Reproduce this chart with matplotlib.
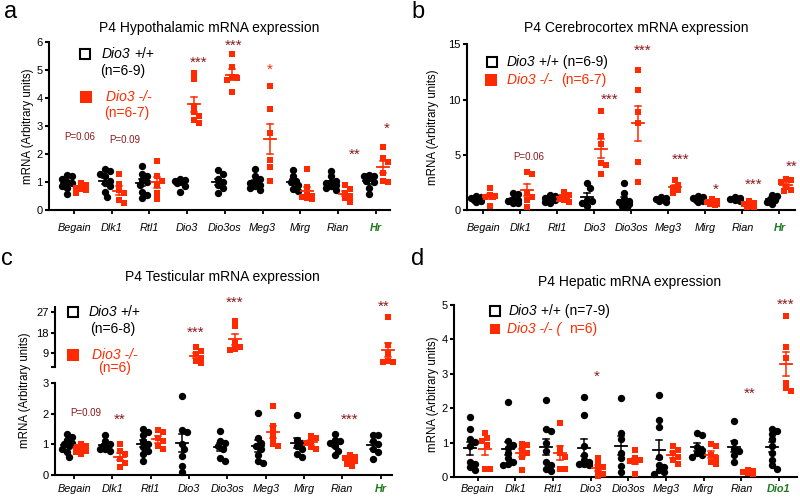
import numpy as np
import matplotlib
matplotlib.use('Agg')
import matplotlib.pyplot as plt
from matplotlib.transforms import offset_copy

plt.rcParams['font.family'] = ['Liberation Sans', 'DejaVu Sans']

W, H = 800, 498
RED = '#FF2A00'
DARK = '#8B1A1A'
GREEN = '#1F7A1F'

genes_brain = ['Begain', 'Dlk1', 'Rtl1', 'Dio3', 'Dio3os', 'Meg3', 'Mirg', 'Rian', 'Hr']
genes_liver = ['Begain', 'Dlk1', 'Rtl1', 'Dio3', 'Dio3os', 'Meg3', 'Mirg', 'Rian', 'Dio1']

# ---------------- panel a: hypothalamus ----------------
hypo_wt = [
    [1.25, 1.2, 1.1, 1.0, 0.95, 0.85, 0.8, 0.57],
    [1.45, 1.38, 1.3, 1.2, 1.05, 0.95, 0.85, 0.65, 0.48],
    [1.58, 1.3, 1.22, 1.07, 1.0, 0.9, 0.65, 0.55, 0.42],
    [1.1, 1.08, 1.05, 1.0, 0.95, 0.85, 0.65],
    [1.43, 1.3, 1.1, 1.0, 0.9, 0.78, 0.6],
    [1.45, 1.2, 1.1, 1.0, 0.95, 0.9, 0.85, 0.8, 0.72],
    [1.42, 1.22, 1.05, 1.0, 0.9, 0.75, 0.68],
    [1.38, 1.2, 1.05, 1.0, 0.95, 0.9, 0.85, 0.8, 0.72],
    [1.25, 1.22, 1.2, 1.15, 1.05, 1.0, 0.8, 0.56],
]
hypo_ko = [
    [0.95, 0.9, 0.8, 0.75, 0.7, 0.6],
    [1.28, 0.92, 0.7, 0.62, 0.35, 0.25],
    [1.75, 1.2, 1.05, 0.9, 0.6, 0.4],
    [4.88, 4.68, 3.7, 3.5, 3.35, 3.2, 3.1],
    [5.58, 5.1, 4.75, 4.7, 4.65, 4.2],
    [4.43, 3.6, 2.75, 1.8, 1.55, 1.05],
    [1.48, 0.83, 0.55, 0.5, 0.45, 0.42, 0.4],
    [0.88, 0.75, 0.6, 0.5, 0.42, 0.3],
    [2.26, 1.85, 1.7, 1.33, 1.05, 1.0],
]
hypo_sig = ['P=0.06', 'P=0.09', '***', '***', '*', '**', '*']
hypo_sig_x = [0.16, 1.34, 3.3, 4.22, 5.2, 7.45, 8.29]
hypo_sig_y = [2.6, 2.5, 5.42, 6.01, 5.18, 2.14, 3.07]
hypo_sig_c = [DARK, DARK, DARK, DARK, RED, DARK, DARK]

# ---------------- panel b: cerebrocortex ----------------
cortex_wt = [
    [1.3, 1.2, 1.1, 1.0, 0.9, 0.8, 0.7],
    [1.5, 1.45, 1.0, 0.9, 0.8, 0.65, 0.6],
    [1.4, 1.3, 1.1, 1.0, 0.9, 0.75, 0.6],
    [2.4, 2.0, 0.9, 0.8, 0.6, 0.4],
    [2.4, 1.5, 1.0, 0.8, 0.7, 0.6, 0.5, 0.4, 0.3],
    [1.2, 1.1, 1.0, 0.9, 0.8, 0.7],
    [1.3, 1.2, 1.1, 1.0, 0.9, 0.8, 0.7],
    [1.15, 1.1, 1.0, 1.0, 0.9, 0.85],
    [1.4, 1.3, 1.0, 0.9, 0.7, 0.5],
]
cortex_ko = [
    [1.95, 1.4, 1.3, 1.2, 1.15, 0.35],
    [3.45, 3.3, 1.55, 1.2, 0.9, 0.3],
    [1.6, 1.4, 1.2, 1.1, 1.0, 0.9, 0.75],
    [9.0, 6.7, 6.0, 4.25, 4.1, 3.25],
    [12.7, 10.9, 8.9, 7.9, 4.3, 2.5],
    [2.7, 2.3, 2.0, 1.8, 1.5],
    [1.0, 0.8, 0.7, 0.6, 0.5, 0.5, 0.45],
    [0.8, 0.6, 0.5, 0.4, 0.3, 0.25],
    [2.8, 2.75, 2.5, 2.1, 1.8, 1.7],
]
cortex_sig = ['P=0.06', '***', '***', '***', '*', '***', '**']
cortex_sig_x = [1.24, 3.42, 4.3, 5.32, 6.29, 7.3, 8.33]
cortex_sig_y = [4.83, 10.42, 14.86, 4.92, 2.27, 2.72, 4.32]

# ---------------- panel c: testis (broken axis) ----------------
testis_wt = [
    [1.35, 1.25, 1.15, 1.05, 1.0, 0.95, 0.85, 0.75, 0.6],
    [1.3, 1.1, 1.0, 0.95, 0.9, 0.85, 0.85, 0.8],
    [1.5, 1.4, 1.3, 1.1, 1.0, 0.9, 0.8, 0.7, 0.47],
    [2.6, 1.48, 1.42, 1.0, 0.85, 0.62, 0.3, 0.1],
    [1.43, 1.1, 1.05, 0.95, 0.85, 0.55, 0.45],
    [2.03, 1.2, 1.05, 0.95, 0.85, 0.65, 0.45, 0.38],
    [1.95, 1.15, 1.05, 0.95, 0.85, 0.7, 0.6],
    [1.33, 1.15, 1.1, 1.05, 0.95, 0.8, 0.65],
    [1.32, 1.3, 1.1, 1.0, 0.85, 0.75, 0.52],
]
testis_ko = [
    [1.0, 0.95, 0.9, 0.85, 0.8, 0.75, 0.7],
    [1.0, 0.78, 0.68, 0.52, 0.4, 0.25],
    [1.48, 1.4, 1.2, 1.1, 0.95, 0.85],
    [11.5, 10.0, 8.5, 7.0, 5.5, 4.5],
    [23.3, 21.0, 13.4, 11.5, 10.8, 10.5],
    [2.27, 1.6, 1.4, 1.2, 1.0, 0.95],
    [1.28, 1.2, 1.1, 1.05, 0.9, 0.85],
    [0.65, 0.6, 0.55, 0.5, 0.45, 0.35, 0.3],
    [25.0, 12.7, 8.7, 5.5, 5.0, 5.0],
]
testis_sig = ['P=0.09', '**', '***', '***', '***', '**']
testis_sig_x = [0.29, 1.18, 3.18, 4.2, 7.18, 8.09]
testis_sig_y = [2.03, 1.95, 19.8, 33.4, 1.95, 31.6]
testis_sig_top = [False, False, True, True, False, True]

# ---------------- panel d: liver ----------------
liver_wt = [
    [1.76, 1.4, 1.1, 1.03, 0.92, 0.45, 0.4, 0.3, 0.2],
    [2.18, 1.05, 0.95, 0.85, 0.7, 0.55, 0.45, 0.4, 0.35],
    [2.25, 1.4, 1.35, 1.0, 0.75, 0.45, 0.35, 0.25, 0.18],
    [2.34, 1.8, 0.9, 0.65, 0.5, 0.45, 0.4, 0.38, 0.35],
    [2.3, 1.3, 1.1, 0.7, 0.55, 0.34, 0.15],
    [2.4, 1.66, 1.45, 0.6, 0.35, 0.3, 0.2, 0.15, 0.1],
    [1.3, 1.24, 0.87, 0.8, 0.7, 0.65, 0.6],
    [1.62, 1.03, 0.82, 0.75, 0.65, 0.45],
    [1.4, 1.35, 1.25, 1.1, 0.9, 0.7, 0.5, 0.35, 0.25],
]
liver_ko = [
    [1.28, 1.15, 1.05, 0.95, 0.25, 0.25],
    [0.97, 0.95, 0.8, 0.7, 0.6, 0.2],
    [1.58, 0.85, 0.7, 0.6, 0.24, 0.24],
    [0.55, 0.4, 0.3, 0.2, 0.1, 0.05],
    [0.78, 0.55, 0.5, 0.48, 0.45, 0.1],
    [0.9, 0.8, 0.7, 0.6, 0.5, 0.4],
    [0.97, 0.9, 0.65, 0.55, 0.45, 0.4],
    [0.2, 0.18, 0.15, 0.15, 0.12, 0.1],
    [4.68, 3.79, 3.45, 2.75, 2.6, 2.5],
]
liver_sig = ['*', '**', '***']
liver_sig_x = [3.16, 7.22, 8.17]
liver_sig_y = [3.05, 2.56, 5.15]

# ====================================================================
fig = plt.figure(figsize=(8, 4.98), dpi=100)


def px_axes(l, t, r, b):
    return fig.add_axes([l / W, 1 - b / H, (r - l) / W, (b - t) / H])


def style_axes(ax, xlim, ylim, yticks, labels, pad, xaxis=True, yticklabels=None):
    ax.set_xlim(*xlim)
    ax.set_ylim(*ylim)
    ax.spines['top'].set_visible(False)
    ax.spines['right'].set_visible(False)
    ax.spines['left'].set_linewidth(1.5)
    ax.spines['bottom'].set_linewidth(1.5)
    ax.set_yticks(yticks)
    if yticklabels is not None:
        ax.set_yticklabels(yticklabels)
    ax.tick_params(axis='y', length=3, width=1.5, pad=1.5, labelsize=8)
    if xaxis:
        ax.set_xticks(range(len(labels)))
        ax.set_xticklabels(labels, fontsize=7.8, style='italic')
        ax.tick_params(axis='x', length=3, width=1.3, pad=pad)
        lab = ax.get_xticklabels()[-1]
        lab.set_color(GREEN)
        lab.set_fontweight('bold')
    else:
        ax.spines['bottom'].set_visible(False)
        ax.set_xticks([])
    ax.patch.set_alpha(0)


def swarm(ypx, d, max_off):
    n = len(ypx)
    offs = np.zeros(n)
    placed = []
    order = np.argsort(-ypx)
    step = d * 0.5
    kmax = int(max_off / step)
    cands = [0.0]
    for k in range(1, kmax + 1):
        cands += [k * step, -k * step]
    for i in order:
        y = ypx[i]
        best = None
        best_score = -1
        for o in cands:
            if placed:
                md = min((o - po) ** 2 + (y - py) ** 2 for po, py in placed)
            else:
                md = 1e9
            if md >= d * d:
                best = o
                break
            if md > best_score:
                best_score = md
                best = o
        offs[i] = best
        placed.append((best, y))
    return offs


def draw_group(ax, xc, vals, color, marker, s, d_px):
    vals = np.asarray(vals, dtype=float)
    tr = ax.transData
    pts = tr.transform(np.column_stack([np.full(len(vals), xc), vals]))
    offs = swarm(pts[:, 1], d_px, 6.0)
    xs = tr.inverted().transform(np.column_stack([pts[:, 0] + offs, pts[:, 1]]))[:, 0]
    ax.scatter(xs, vals, s=s, marker=marker, color=color, linewidths=0,
               zorder=3, clip_on=False)
    pxu = tr.transform((1, 0))[0] - tr.transform((0, 0))[0]
    m = vals.mean()
    se = vals.std(ddof=1) / np.sqrt(len(vals))
    hw = 6.0 / pxu
    cw = 3.0 / pxu
    ax.plot([xc - hw, xc + hw], [m, m], color=color, lw=1.3, zorder=4, clip_on=False)
    ax.plot([xc, xc], [m - se, m + se], color=color, lw=1.1, zorder=4, clip_on=False)
    ax.plot([xc - cw, xc + cw], [m + se, m + se], color=color, lw=1.1, zorder=4, clip_on=False)
    ax.plot([xc - cw, xc + cw], [m - se, m - se], color=color, lw=1.1, zorder=4, clip_on=False)


def draw_panel(ax, wt, ko, ax_top=None, top_thresh=None):
    for i, (w, k) in enumerate(zip(wt, ko)):
        target_k = ax
        if ax_top is not None and min(k) > top_thresh:
            target_k = ax_top
        draw_group(ax, i - 0.19, w, 'black', 'o', 28, 5.0)
        draw_group(target_k, i + 0.19, k, RED, 's', 24, 5.0)


def add_sig(ax, labels, xs, ys, colors):
    for lab, x, y, c in zip(labels, xs, ys, colors):
        if lab.startswith('P'):
            ax.text(x, y, lab, ha='center', va='center', fontsize=7, color=c, clip_on=False)
        else:
            tr = offset_copy(ax.transData, fig=fig, x=0, y=-4.5, units='dots')
            ax.text(x, y, lab, ha='center', va='center', fontsize=11, color=c,
                    transform=tr, clip_on=False)


# ---------------- axes ----------------
ax_a = px_axes(49, 42, 390, 210)
ax_b = px_axes(467, 44.3, 795, 210)
ax_c = px_axes(55, 383.3, 391.7, 475)
ax_ct = px_axes(55, 306.7, 391.7, 366.7)
ax_d = px_axes(454.3, 305, 796.7, 477.3)

style_axes(ax_a, (-0.663, 8.38), (0, 6), range(0, 7), genes_brain, 6.5)
style_axes(ax_b, (-0.44, 8.42), (0, 15), [0, 5, 10, 15], genes_brain, 6.5)
style_axes(ax_c, (-0.5, 8.29), (0, 3), [0, 1, 2, 3], genes_brain, 3.6)
style_axes(ax_ct, (-0.5, 8.29), (3, 29.5), [3, 9, 18, 27], genes_brain, 3.6,
           xaxis=False, yticklabels=['', '9', '18', '27'])
style_axes(ax_d, (-0.62, 8.47), (0, 5), range(0, 6), genes_liver, 1.8)

draw_panel(ax_a, hypo_wt, hypo_ko)
draw_panel(ax_b, cortex_wt, cortex_ko)
draw_panel(ax_c, testis_wt, testis_ko, ax_top=ax_ct, top_thresh=3)
draw_panel(ax_d, liver_wt, liver_ko)

add_sig(ax_a, hypo_sig, hypo_sig_x, hypo_sig_y, hypo_sig_c)
add_sig(ax_b, cortex_sig, cortex_sig_x, cortex_sig_y, [DARK] * len(cortex_sig))
for lab, x, y, top in zip(testis_sig, testis_sig_x, testis_sig_y, testis_sig_top):
    add_sig(ax_ct if top else ax_c, [lab], [x], [y], [DARK])
add_sig(ax_d, liver_sig, liver_sig_x, liver_sig_y, [DARK] * len(liver_sig))

# ---------------- overlay for titles, legends, labels ----------------
ov = fig.add_axes([0, 0, 1, 1])
ov.set_xlim(0, W)
ov.set_ylim(H, 0)
ov.axis('off')

renderer = fig.canvas.get_renderer()


def rich(x, y, parts, size=10):
    sp = 0.278 * size * 100 / 72.0
    for txt, italic, color, nsp in parts:
        x += nsp * sp
        t = ov.text(x, y, txt, fontsize=size, ha='left', va='center', color=color,
                    style='italic' if italic else 'normal')
        bb = t.get_window_extent(renderer=renderer)
        x += bb.width


titles = ['P4 Hypothalamic mRNA expression', 'P4 Cerebrocortex mRNA expression',
          'P4 Testicular mRNA expression', 'P4 Hepatic mRNA expression']
title_pos = [(209, 28.3), (636.7, 28.3), (222.5, 277.3), (629.5, 282.3)]
for t, (x, y) in zip(titles, title_pos):
    ov.text(x, y, t, ha='center', va='center', fontsize=10)

letters = ['a', 'b', 'c', 'd']
letter_pos = [(11, 12), (418, 12), (7, 259), (418, 259)]
for t, (x, y) in zip(letters, letter_pos):
    ov.text(x, y, t, ha='center', va='center', fontsize=17)

ylab_pos = [(28, 126), (433, 127), (25, 390), (433, 394)]
for x, y in ylab_pos:
    ov.text(x, y, 'mRNA (Arbitrary units)', ha='center', va='center', rotation=90, fontsize=8.3)

# legend markers
ov.plot([85, 491.7, 73.3, 495], [54.3, 61.7, 312.3, 310.7], 's', ms=7.2,
        mfc='white', mec='black', mew=1.5)
ov.plot([86, 490.7, 73.3], [97.3, 80, 355], 's', ms=8.6, mfc=RED, mec=RED, mew=0)
ov.plot([495], [329], 's', ms=7.2, mfc=RED, mec=RED, mew=0)

# panel a legend
rich(101.7, 54.3, [('Dio3', True, 'black', 0), ('+/+', False, 'black', 1)])
rich(100, 71, [('(n=6-9)', False, 'black', 0)])
rich(106, 97.3, [('Dio3 -/-', True, RED, 0)])
rich(104, 113.3, [('(n=6-7)', False, RED, 0)])
# panel b legend
rich(506.7, 61.7, [('Dio3', True, 'black', 0), ('+/+ (n=6-9)', False, 'black', 1)])
rich(507.3, 80, [('Dio3 -/-', True, RED, 0), ('(n=6-7)', False, RED, 2)])
# panel c legend
rich(88.3, 312.3, [('Dio3', True, 'black', 0), ('+/+', False, 'black', 1)])
rich(90, 329, [('(n=6-8)', False, 'black', 0)])
rich(91.7, 355, [('Dio3 -/-', True, RED, 0)])
rich(98, 368.3, [('(n=6)', False, RED, 0)])
# panel d legend
rich(508.3, 310.7, [('Dio3', True, 'black', 0), ('+/+ (n=7-9)', False, 'black', 1)])
rich(507.3, 329, [('Dio3 -/- (', True, RED, 0), ('n=6)', False, RED, 2)])

fig.savefig('out.png', dpi=100)
